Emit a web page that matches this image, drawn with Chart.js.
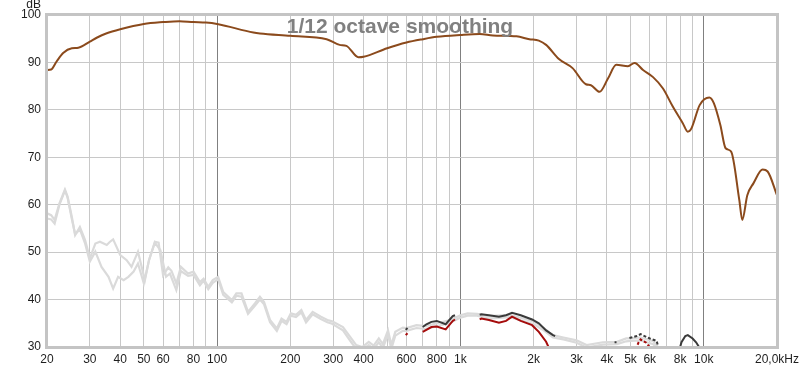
<!DOCTYPE html>
<html>
<head>
<meta charset="utf-8">
<script src="https://cdn.jsdelivr.net/npm/chart.js@4"></script>
<style>
  html, body { margin: 0; padding: 0; background: #fff; }
  #wrap { width: 800px; height: 368px; }
</style>
</head>
<body>
<div id="wrap"><canvas id="myChart"></canvas></div>
<script>
'use strict';

// frequency response (brown)
const respFreq = [20, 20.8, 21.9, 23.3, 25.3, 26.9, 30, 32, 35, 40, 50, 60, 70, 80, 90, 100, 141, 150, 200, 282, 319, 340, 381, 400, 500, 600, 700, 800, 1000, 1200, 1360, 1700, 1920, 2100, 2250, 2540, 2890, 3280, 3440, 3730, 4040, 4370, 4880, 5200, 5630, 6190, 6800, 7460, 8200, 8600, 8900, 9620, 10540, 11000, 11700, 12300, 12960, 14000, 14400, 15100, 16000, 17460, 18300, 20000];
const respDb = [88.4, 88.5, 90.2, 92.0, 93.0, 93.1, 94.4, 95.2, 96.1, 97.0, 98.1, 98.5, 98.7, 98.5, 98.4, 98.1, 96.3, 96.1, 95.6, 94.9, 93.7, 93.5, 91.1, 91.2, 93.0, 94.2, 94.9, 95.4, 95.8, 96.0, 95.7, 95.5, 94.9, 94.6, 93.7, 90.7, 88.8, 85.4, 85.2, 83.8, 86.6, 89.5, 89.2, 89.9, 88.4, 86.9, 84.5, 80.7, 77.2, 75.4, 76.1, 81.0, 82.6, 81.4, 76.8, 71.9, 71.2, 61.0, 56.8, 62.0, 64.5, 67.4, 67.0, 62.0];

// light gray traces (two measurements)
const grayFreqA = [20, 20.8, 21.5, 22.5, 23.7, 24.3, 25.3, 26.1, 27.3, 28.7, 30, 31.6, 33, 35.2, 36.3, 37.4, 40, 42.5, 44.5, 47.3, 50.5, 52.5, 55.5, 57.5, 60, 63, 65, 68, 71, 76, 80, 85, 88, 92, 96, 101, 106, 115, 120, 126, 134, 143, 150, 156, 165, 176, 184, 193, 201, 211, 222, 232, 247, 267, 284, 297, 329, 356, 373, 395, 420, 440, 462, 480, 504, 520, 540, 580, 600, 660, 720, 800, 900, 1000, 1070, 1170, 1300, 1600, 2000, 2200, 2400, 2650, 3000, 3300, 3850, 4400, 4800, 5000, 5500, 6200, 6600];
const grayDbA = [58.2, 57.8, 56.8, 60.3, 63.2, 61.7, 57.4, 53.6, 55.3, 52.5, 48.7, 51.8, 52.2, 51.5, 52.2, 52.7, 49.4, 48.3, 46.9, 50.1, 44.1, 48.3, 52.2, 52.0, 45.1, 46.8, 46.0, 43.4, 46.9, 45.5, 45.9, 43.7, 44.4, 42.7, 44.1, 44.8, 41.6, 39.9, 41.3, 41.3, 37.4, 39.2, 40.6, 39.5, 35.7, 33.9, 36.0, 35.3, 37.1, 36.8, 37.8, 35.7, 37.4, 36.4, 35.7, 35.4, 34.2, 31.8, 30.4, 30.0, 31.1, 30.3, 31.8, 30.6, 33.5, 30.4, 33.2, 34.1, 34.0, 34.6, 34.4, 35.0, 35.6, 36.7, 37.1, 37.0, 36.5, 36.8, 35.4, 34.0, 32.5, 32.0, 31.4, 30.4, 31.0, 31.1, 31.8, 31.8, 32.0, 31.2, 29.5];
const grayFreqB = [20, 20.8, 21.5, 22.5, 23.7, 24.3, 25.3, 26.1, 27.3, 28.7, 30, 31.6, 33.5, 35.8, 37.4, 39.2, 41.3, 43.2, 45.4, 47.3, 50, 52.5, 55.5, 58.5, 61.7, 64, 68, 71, 76, 80, 85, 88, 92, 96, 101, 106, 115, 120, 126, 134, 143, 150, 156, 165, 176, 184, 193, 201, 211, 222, 232, 247, 267, 284, 297, 329, 356, 373, 395, 420, 440, 462, 480, 504, 520, 540, 580, 600, 660, 720, 800, 900, 1000, 1070, 1170, 1300, 1600, 2000, 2200, 2400, 2650, 3000, 3300, 3850, 4400, 4800, 5000, 5500, 6200, 6600];
const grayDbB = [57.1, 56.9, 56.0, 60.0, 63.0, 61.5, 57.0, 53.8, 54.8, 51.8, 48.0, 50.1, 46.9, 44.8, 42.3, 44.8, 44.1, 44.8, 45.9, 47.6, 43.4, 48.3, 52.0, 50.4, 44.8, 45.5, 42.0, 46.0, 45.0, 45.2, 43.0, 44.0, 42.2, 43.5, 44.3, 41.0, 39.4, 40.8, 40.6, 37.0, 38.7, 40.0, 39.0, 35.2, 33.4, 35.5, 34.8, 36.6, 36.3, 37.3, 35.2, 36.9, 35.9, 35.2, 34.9, 33.5, 31.0, 29.6, 29.5, 30.4, 29.6, 31.0, 29.8, 32.6, 29.6, 32.4, 33.4, 33.4, 34.0, 33.8, 34.4, 35.0, 36.2, 36.6, 36.6, 36.0, 36.3, 34.8, 33.5, 32.0, 31.6, 30.9, 29.9, 30.5, 30.6, 31.2, 31.3, 31.4, 30.6, 29.0];

// dark gray trace (null = gap)
const darkFreq = [596, 606, 650, 700, 725, 760, 800, 870, 930, 950, 1100, 1200, 1220, 1310, 1440, 1540, 1630, 1770, 1970, 2100, 2250, 2400, 2450, 3000, 4300, 4380, 4700, 4950, 5300, 5500, 6000, 6400, 6550, 7500, 7950, 8100, 8400, 8600, 9000, 9300, 9700];
const darkDb = [33.6, 34.0, null, 34.2, 34.8, 35.3, 35.5, 34.8, 36.5, 36.7, null, 36.8, 36.9, 36.7, 36.4, 36.7, 37.2, 36.7, 35.8, 35.0, 33.5, 32.5, 32.3, null, 31.0, 31.0, null, 31.9, 32.3, 32.7, 31.8, 31.3, 29.5, null, 29.5, 31.0, 32.3, 32.5, 31.8, 31.0, 29.5];

// dark red trace (null = gap)
const redFreq = [596, 606, 650, 700, 760, 800, 870, 930, 950, 1100, 1200, 1220, 1310, 1440, 1540, 1630, 1770, 1970, 2100, 2250, 2350, 4000, 5250, 5400, 5500, 5800, 6100];
const redDb = [32.5, 32.9, null, 33.2, 34.2, 34.3, 33.7, 35.5, 35.8, null, 35.8, 36.0, 35.7, 35.1, 35.5, 36.4, 35.5, 34.6, 33.2, 31.1, 29.0, null, 29.5, 31.0, 31.6, 30.9, 29.5];

// x axis ticks and labels
const xTicks = [20, 30, 40, 50, 60, 70, 80, 90, 100, 200, 300, 400, 500, 600, 700, 800, 900, 1000, 2000, 3000, 4000, 5000, 6000, 7000, 8000, 9000, 10000, 20000];
const xLabels = ['20', '30', '40', '50', '60', '', '80', '', '100', '200', '300', '400', '', '600', '', '800', '', '1k', '2k', '3k', '4k', '5k', '6k', '', '8k', '', '10k', '20,0kHz'];
const yTicks = [30, 40, 50, 60, 70, 80, 90, 100];

const titleText = '1/12 octave smoothing';

function points(fs, vs){
  return fs.map((f, i) => ({x: f, y: vs[i]}));
}

const colors = {
  brown: 'rgb(139,74,28)',
  lightGray: 'rgb(218,218,218)',
  darkGray: 'rgb(58,58,58)',
  darkRed: 'rgb(165,12,12)',
  grid: 'rgb(200,200,200)',
  decade: 'rgb(128,128,128)',
  frame: 'rgb(196,196,196)',
  text: 'rgb(30,30,30)',
  title: 'rgb(128,128,128)'
};

const dashed = ctx => (ctx.p0.parsed.x > 4500 && ctx.p0.parsed.x < 7000) ? [3, 2] : undefined;

const decorPlugin = {
  id: 'decor',
  beforeDraw(chart){
    const c = chart.ctx;
    c.save();
    c.fillStyle = '#fff';
    c.fillRect(0, 0, chart.width, chart.height);
    c.restore();
  },
  afterDatasetsDraw(chart){
    const c = chart.ctx;
    const a = chart.chartArea;
    c.save();
    // frame
    c.strokeStyle = colors.frame;
    c.lineWidth = 3;
    c.strokeRect(a.left - 0.5, a.top - 0.5, a.right - a.left + 1, a.bottom - a.top + 1);
    // title
    c.fillStyle = colors.title;
    c.font = 'bold 21px "Liberation Sans", Arial, sans-serif';
    c.textAlign = 'center';
    c.textBaseline = 'middle';
    c.fillText(titleText, chart.width / 2, a.top + 12);
    // unit
    c.fillStyle = colors.text;
    c.font = '12px "Liberation Sans", Arial, sans-serif';
    c.textAlign = 'right';
    c.fillText('dB', a.left - 6, a.top - 10);
    c.restore();
  }
};

const grayStyle = {
  borderColor: colors.lightGray,
  borderWidth: 2.2,
  pointRadius: 0,
  tension: 0,
  fill: false
};

// Chart.js paints lower dataset indexes on top, so the response comes first
new Chart(document.getElementById('myChart'), {
  type: 'line',
  data: {
    datasets: [
      {
        label: 'response',
        data: points(respFreq, respDb),
        borderColor: colors.brown,
        borderWidth: 2,
        pointRadius: 0,
        cubicInterpolationMode: 'monotone'
      },
      {
        label: 'red',
        data: points(redFreq, redDb),
        borderColor: colors.darkRed,
        borderWidth: 2,
        pointRadius: 0,
        tension: 0,
        segment: {borderDash: dashed}
      },
      {
        label: 'dark',
        data: points(darkFreq, darkDb),
        borderColor: colors.darkGray,
        borderWidth: 2,
        pointRadius: 0,
        tension: 0,
        segment: {borderDash: dashed}
      },
      Object.assign({label: 'dist A', data: points(grayFreqA, grayDbA)}, grayStyle),
      Object.assign({label: 'dist B', data: points(grayFreqB, grayDbB)}, grayStyle)
    ]
  },
  options: {
    responsive: true,
    maintainAspectRatio: false,
    animation: false,
    layout: {padding: {left: 0, top: 15, right: 23, bottom: 0}},
    plugins: {
      legend: {display: false},
      tooltip: {enabled: false}
    },
    scales: {
      x: {
        type: 'logarithmic',
        min: 20,
        max: 20000,
        afterBuildTicks: scale => { scale.ticks = xTicks.map(v => ({value: v})); },
        afterFit: scale => { scale.height = 21; scale.paddingLeft = 0; scale.paddingRight = 0; },
        ticks: {
          autoSkip: false,
          maxRotation: 0,
          padding: 5,
          color: colors.text,
          font: {family: '"Liberation Sans", Arial, sans-serif', size: 12},
          callback: (v) => {
            const i = xTicks.indexOf(v);
            return i >= 0 ? xLabels[i] : '';
          }
        },
        grid: {
          drawTicks: false,
          color: ctx => (ctx.tick && [100, 1000, 10000].includes(ctx.tick.value)) ? colors.decade : colors.grid,
          lineWidth: 1
        },
        border: {display: false}
      },
      y: {
        type: 'linear',
        min: 30,
        max: 100,
        afterBuildTicks: scale => { scale.ticks = yTicks.map(v => ({value: v})); },
        afterFit: scale => { scale.width = 47; },
        ticks: {
          padding: 6,
          color: colors.text,
          font: {family: '"Liberation Sans", Arial, sans-serif', size: 12}
        },
        grid: {
          drawTicks: false,
          color: colors.grid,
          lineWidth: 1
        },
        border: {display: false}
      }
    }
  },
  plugins: [decorPlugin]
});
</script>
</body>
</html>
